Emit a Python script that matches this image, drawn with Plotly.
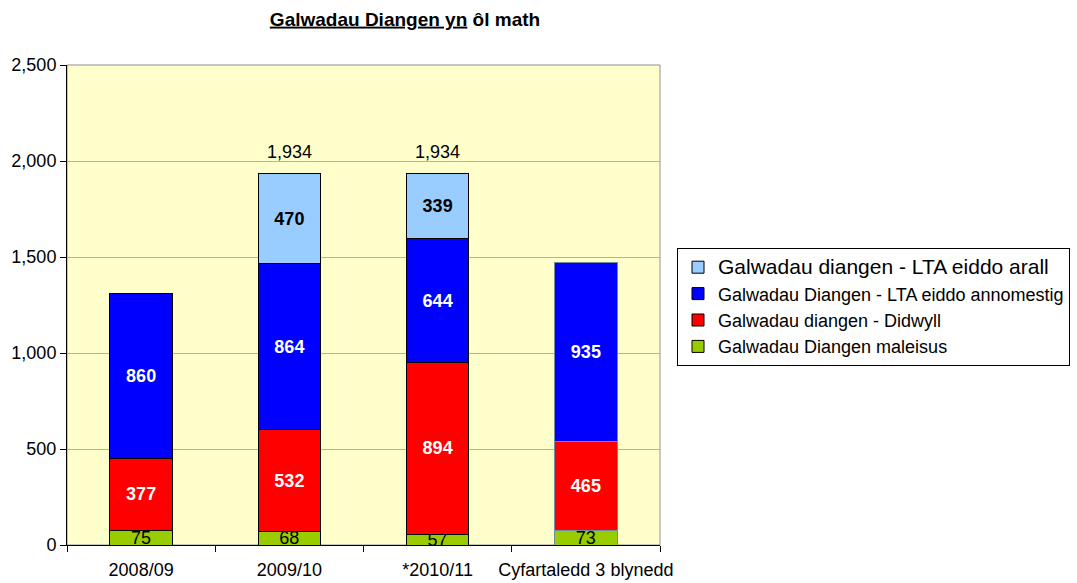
import plotly.graph_objects as go

categories = ["2008/09", "2009/10", "*2010/11", "Cyfartaledd 3 blynedd"]
maleisus = [75, 68, 57, 73]
didwyll = [377, 532, 894, 465]
annomestig = [860, 864, 644, 935]
arall = [None, 470, 339, None]
total_labels = [None, 1934, 1934, None]

series_names = [
    "Galwadau Diangen maleisus",
    "Galwadau diangen - Didwyll",
    "Galwadau Diangen - LTA eiddo annomestig",
    "Galwadau diangen - LTA eiddo arall",
]

FONT = "Liberation Sans, Arial, sans-serif"
FS = 18
line_cols = ["black", "black", "black", "#6f8f9f"]

def fmt(v):
    return "" if v is None else f"{v:,}"

W, H = 1077, 583
L, T, PW, PH = 67, 65, 593, 480

fig = go.Figure()
specs = [
    (maleisus, "#99CC00", "black", False, series_names[0], 4),
    (didwyll, "#FF0000", "white", True, series_names[1], 3),
    (annomestig, "#0000FF", "white", True, series_names[2], 2),
    (arall, "#99CCFF", "black", True, '<span style="font-size:21px">' + series_names[3] + "</span>", 1),
]
for i, (vals, col, tcol, bold, name, rank) in enumerate(specs):
    fig.add_trace(go.Bar(
        x=categories, y=vals, name=name, legendrank=rank,
        marker=dict(color=col, line=dict(color=line_cols, width=1)),
        text=[(f"<b>{fmt(v)}</b>" if bold and v is not None else fmt(v)) for v in vals],
        textposition="inside", insidetextanchor="middle", constraintext="none",
        textangle=0,
        textfont=dict(color=tcol, size=FS, family=FONT),
        width=0.42, hoverinfo="y",
    ))

for c, v in zip(categories, total_labels):
    if v is not None:
        fig.add_annotation(x=c, y=v, text=fmt(v), showarrow=False,
                           yanchor="bottom", yshift=10,
                           font=dict(size=FS, color="black", family=FONT))

fig.update_layout(
    barmode="stack",
    width=W, height=H,
    margin=dict(l=L, r=W - L - PW, t=T, b=H - T - PH, autoexpand=False),
    paper_bgcolor="white", plot_bgcolor="#FFFFCC",
    font=dict(family=FONT, size=FS, color="black"),
    title=dict(
        text='<b><span style="text-decoration:underline">Galwadau Diangen yn</span> ôl math</b>',
        x=405 / W, xanchor="center", y=1 - 19 / H, yanchor="middle",
        font=dict(size=19, family=FONT),
    ),
    legend=dict(
        x=(677 - L) / PW, xanchor="left", y=(T + PH - 248) / PH, yanchor="top",
        bgcolor="white", bordercolor="black", borderwidth=1,
        font=dict(size=FS, family=FONT), traceorder="normal",
    ),
    showlegend=True,
)
fig.update_yaxes(
    range=[0, 2500], tickvals=[0, 500, 1000, 1500, 2000, 2500],
    tickformat=",", showgrid=True, gridcolor="#B0B0B0", gridwidth=1,
    showline=True, linecolor="black", linewidth=1,
    ticks="outside", ticklen=6, tickcolor="black",
    tickfont=dict(size=FS), zeroline=False, automargin=False,
)
fig.update_xaxes(
    showline=True, linecolor="black", linewidth=1,
    ticks="outside", tickson="boundaries", ticklen=6, tickcolor="black",
    tickfont=dict(size=FS), showgrid=False, tickangle=0, automargin=False,
    ticklabelstandoff=8,
)
fig.add_shape(type="rect", xref="paper", yref="paper", x0=0, x1=1, y0=0, y1=1,
              line=dict(color="#909090", width=1), layer="below")

fig.write_html(
    "out.html",
    config={"displayModeBar": False},
    post_script="document.body.style.margin='0';document.body.style.overflow='hidden';",
)
